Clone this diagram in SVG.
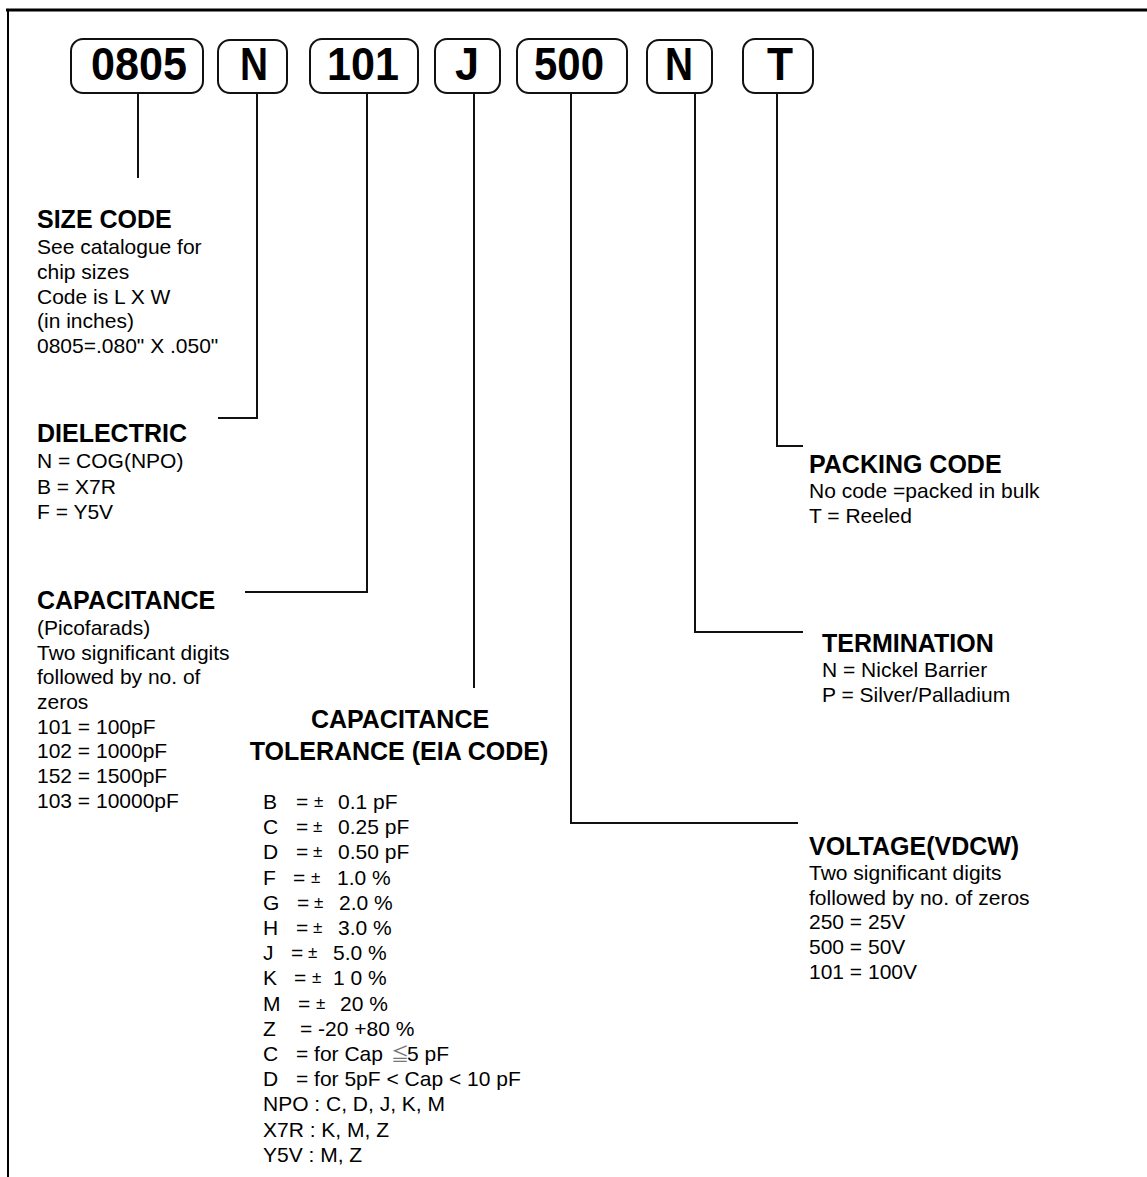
<svg xmlns="http://www.w3.org/2000/svg" width="1147" height="1177" viewBox="0 0 1147 1177">
<style>
.box{fill:#fff;stroke:#111;stroke-width:2}
.code{font-family:"Liberation Sans",Arial,sans-serif;font-weight:bold;font-size:46px;fill:#000;text-anchor:middle}
.h{font-family:"Liberation Sans",Arial,sans-serif;font-weight:bold;font-size:25px;fill:#000}
.t{font-family:"Liberation Sans",Arial,sans-serif;font-size:21px;fill:#000}
.pm{font-family:"Liberation Sans",Arial,sans-serif;font-size:17px;fill:#000}
.cn{fill:none;stroke:#111;stroke-width:2}
</style>
<rect width="1147" height="1177" fill="#fff"/>
<g id="frame">
<line x1="6" y1="10" x2="1147" y2="10" stroke="#000" stroke-width="3"/>
<line x1="8" y1="9" x2="8" y2="1177" stroke="#000" stroke-width="2"/>
</g>
<g id="connectors">
<path class="cn" d="M138 93V178"/>
<path class="cn" d="M257 93V418H218"/>
<path class="cn" d="M367 93V592H245"/>
<path class="cn" d="M474 93V688"/>
<path class="cn" d="M571 93V823H798"/>
<path class="cn" d="M695 93V632H803"/>
<path class="cn" d="M777 93V446H803"/>
</g>
<g id="box-0805"><rect class="box" x="71" y="39" width="132" height="54" rx="12"/><text class="code" x="139" y="80" textLength="96" lengthAdjust="spacingAndGlyphs">0805</text></g>
<g id="box-N1"><rect class="box" x="218" y="40" width="69" height="53" rx="12"/><text class="code" x="254" y="80" textLength="28" lengthAdjust="spacingAndGlyphs">N</text></g>
<g id="box-101"><rect class="box" x="310" y="39" width="108" height="54" rx="12"/><text class="code" x="363" y="80" textLength="72" lengthAdjust="spacingAndGlyphs">101</text></g>
<g id="box-J"><rect class="box" x="435" y="39" width="65" height="54" rx="12"/><text class="code" x="467" y="80" textLength="24" lengthAdjust="spacingAndGlyphs">J</text></g>
<g id="box-500"><rect class="box" x="517" y="39" width="110" height="54" rx="12"/><text class="code" x="569" y="80" textLength="70" lengthAdjust="spacingAndGlyphs">500</text></g>
<g id="box-N2"><rect class="box" x="647" y="40" width="65" height="53" rx="12"/><text class="code" x="679" y="80" textLength="28" lengthAdjust="spacingAndGlyphs">N</text></g>
<g id="box-T"><rect class="box" x="743" y="39" width="70" height="54" rx="12"/><text class="code" x="780" y="80" textLength="26" lengthAdjust="spacingAndGlyphs">T</text></g>

<g id="size-code">
<text class="h" x="37" y="228">SIZE CODE</text>
<text class="t" x="37" y="254">See catalogue for</text>
<text class="t" x="37" y="279">chip sizes</text>
<text class="t" x="37" y="304">Code is L X W</text>
<text class="t" x="37" y="328">(in inches)</text>
<text class="t" x="37" y="353">0805=.080" X .050"</text>
</g>
<g id="dielectric">
<text class="h" x="37" y="442">DIELECTRIC</text>
<text class="t" x="37" y="468">N = COG(NPO)</text>
<text class="t" x="37" y="494">B = X7R</text>
<text class="t" x="37" y="519">F = Y5V</text>
</g>
<g id="capacitance">
<text class="h" x="37" y="609">CAPACITANCE</text>
<text class="t" x="37" y="635">(Picofarads)</text>
<text class="t" x="37" y="660">Two significant digits</text>
<text class="t" x="37" y="684">followed by no. of</text>
<text class="t" x="37" y="709">zeros</text>
<text class="t" x="37" y="734">101 = 100pF</text>
<text class="t" x="37" y="758">102 = 1000pF</text>
<text class="t" x="37" y="783">152 = 1500pF</text>
<text class="t" x="37" y="808">103 = 10000pF</text>
</g>
<g id="tolerance">
<text class="h" x="400" y="728" text-anchor="middle">CAPACITANCE</text>
<text class="h" x="399" y="760" text-anchor="middle">TOLERANCE (EIA CODE)</text>
<text class="t" x="263" y="809">B</text><text class="t" x="296" y="809">=</text><text class="pm" x="314" y="807">±</text><text class="t" x="338" y="809">0.1 pF</text>
<text class="t" x="263" y="834">C</text><text class="t" x="296" y="834">=</text><text class="pm" x="313" y="832">±</text><text class="t" x="338" y="834">0.25 pF</text>
<text class="t" x="263" y="859">D</text><text class="t" x="296" y="859">=</text><text class="pm" x="313" y="857">±</text><text class="t" x="338" y="859">0.50 pF</text>
<text class="t" x="263" y="885">F</text><text class="t" x="293" y="885">=</text><text class="pm" x="311" y="883">±</text><text class="t" x="337" y="885">1.0 %</text>
<text class="t" x="263" y="910">G</text><text class="t" x="297" y="910">=</text><text class="pm" x="314" y="908">±</text><text class="t" x="339" y="910">2.0 %</text>
<text class="t" x="263" y="935">H</text><text class="t" x="296" y="935">=</text><text class="pm" x="313" y="933">±</text><text class="t" x="338" y="935">3.0 %</text>
<text class="t" x="263" y="960">J</text><text class="t" x="291" y="960">=</text><text class="pm" x="308" y="958">±</text><text class="t" x="333" y="960">5.0 %</text>
<text class="t" x="263" y="985">K</text><text class="t" x="294" y="985">=</text><text class="pm" x="312" y="983">±</text><text class="t" x="333" y="985">1 0 %</text>
<text class="t" x="263" y="1011">M</text><text class="t" x="298" y="1011">=</text><text class="pm" x="316" y="1009">±</text><text class="t" x="340" y="1011">20 %</text>
<text class="t" x="263" y="1036">Z</text><text class="t" x="300" y="1036">= -20 +80 %</text>
<text class="t" x="263" y="1061">C</text><text class="t" x="296" y="1061">= for Cap</text><text x="391" y="1061" font-family="'Noto Sans CJK JP',sans-serif" font-size="18" fill="#777">≦</text><text class="t" x="407" y="1061">5 pF</text>
<text class="t" x="263" y="1086">D</text><text class="t" x="296" y="1086">= for 5pF &lt; Cap &lt; 10 pF</text>
<text class="t" x="263" y="1111">NPO : C, D, J, K, M</text>
<text class="t" x="263" y="1137">X7R : K, M, Z</text>
<text class="t" x="263" y="1162">Y5V : M, Z</text>
</g>
<g id="packing-code">
<text class="h" x="809" y="473">PACKING CODE</text>
<text class="t" x="809" y="498">No code =packed in bulk</text>
<text class="t" x="809" y="523">T = Reeled</text>
</g>
<g id="termination">
<text class="h" x="822" y="652">TERMINATION</text>
<text class="t" x="822" y="677">N = Nickel Barrier</text>
<text class="t" x="822" y="702">P = Silver/Palladium</text>
</g>
<g id="voltage">
<text class="h" x="809" y="855">VOLTAGE(VDCW)</text>
<text class="t" x="809" y="880">Two significant digits</text>
<text class="t" x="809" y="905">followed by no. of zeros</text>
<text class="t" x="809" y="929">250 = 25V</text>
<text class="t" x="809" y="954">500 = 50V</text>
<text class="t" x="809" y="979">101 = 100V</text>
</g>
</svg>
